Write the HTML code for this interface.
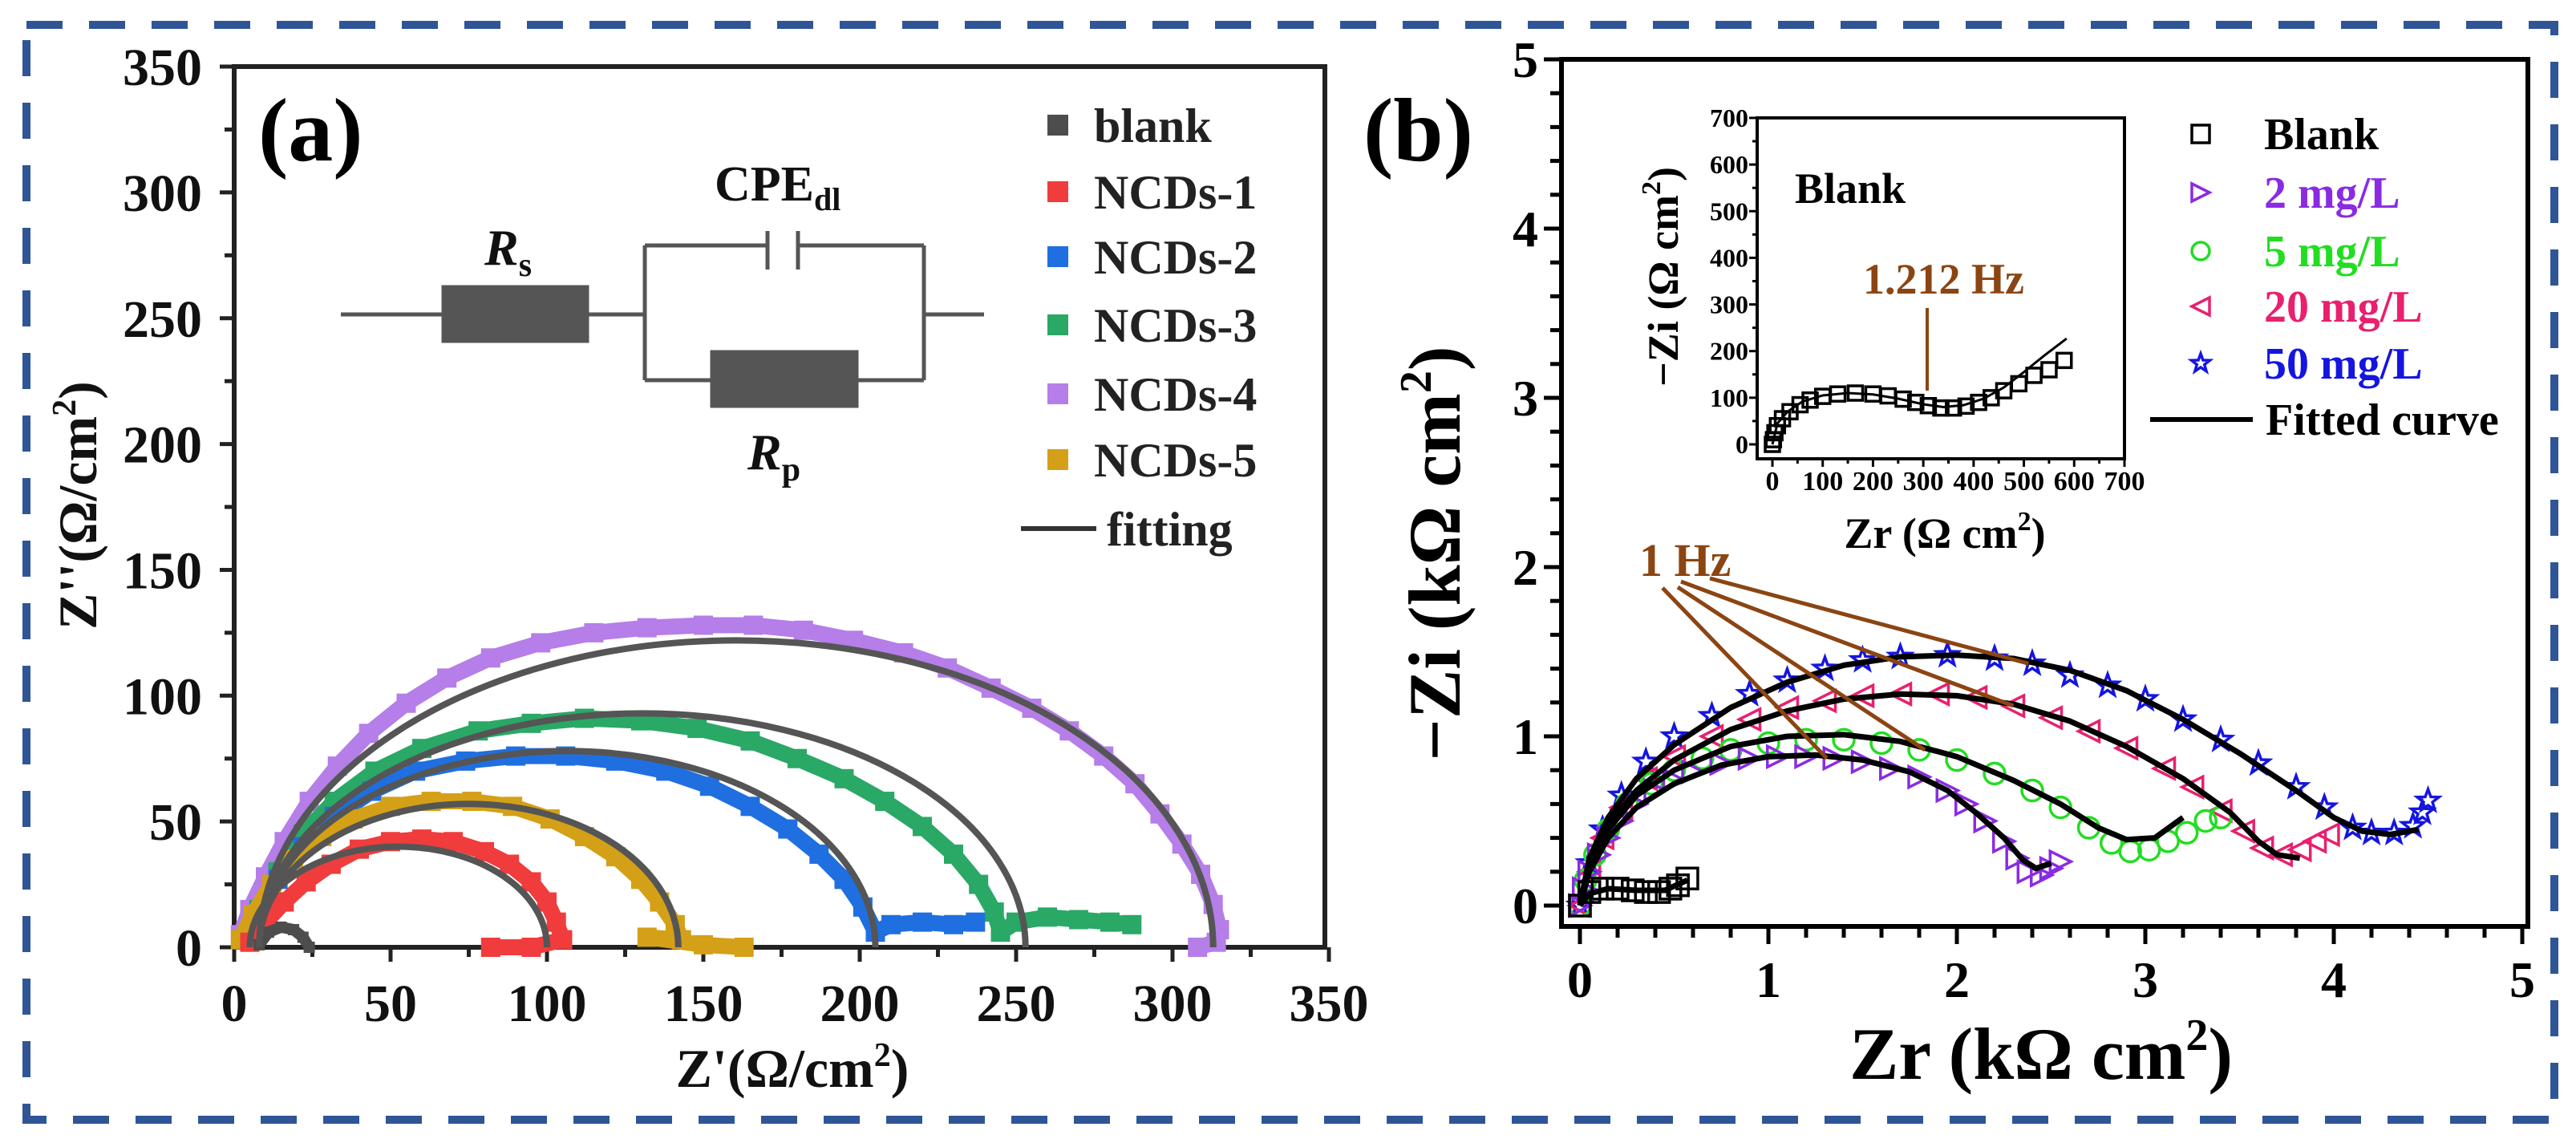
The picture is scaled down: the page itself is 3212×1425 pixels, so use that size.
<!DOCTYPE html>
<html><head><meta charset="utf-8">
<style>
html,body{margin:0;padding:0;background:#fff;}
svg{display:block;font-family:"Liberation Serif",serif;font-weight:bold;}
</style></head>
<body>
<svg id="fig" width="3212" height="1425" viewBox="0 0 3212 1425" xmlns="http://www.w3.org/2000/svg">
<rect x="33" y="31" width="3152" height="1365" fill="none" stroke="#2f5597" stroke-width="10" stroke-dasharray="45 33"/>
<g id="pa"></g>
<g id="pb"></g>
</svg>
<script>
// ===== Panel (a) data =====
const aTicks = [0,50,100,150,200,250,300,350];
const aNames = ["blank","NCDs-1","NCDs-2","NCDs-3","NCDs-4","NCDs-5"];
const aColors = ["#4d4d4d","#f03c3c","#1f6fe0","#2aa866","#b57ee8","#d4a017"];
const aBlank = [[8,1],[11,6],[15,8],[19,7],[22,4],[24,0]];
const aN1 = [[5,2],[10,10],[16,18],[23,26],[31,33],[40,39],[50,42],[60,43],[70,42],[80,38],[88,33],[95,26],[100,18],[103,10],[105,3],[95,0],[82,0]];
const aN2 = [[3,3],[8,14],[14,27],[22,40],[32,52],[44,62],[58,70],[74,74],[90,76],[106,76],[122,74],[138,70],[152,64],[165,56],[177,47],[187,37],[195,27],[201,16],[205,6],[210,9],[220,10],[230,9],[237,10]];
const aN3 = [[3,3],[8,15],[14,30],[22,45],[32,58],[45,70],[60,79],[78,86],[95,89],[112,91],[130,90],[148,87],[165,82],[180,75],[195,67],[208,58],[220,48],[230,37],[238,25],[243,14],[245,6],[250,10],[260,12],[270,11],[280,10],[287,9]];
const aN4 = [[2,5],[5,15],[10,28],[16,42],[24,58],[33,72],[43,85],[55,97],[68,107],[82,115],[98,121],[115,125],[132,127],[150,128],[166,128],[182,126],[198,122],[214,117],[228,111],[242,103],[255,95],[267,86],[278,76],[288,65],[296,53],[303,41],[309,29],[313,17],[315,7],[314,2],[308,0]];
const aN5 = [[2,3],[6,13],[12,25],[19,35],[28,44],[38,51],[50,56],[63,58],[76,58],[89,56],[101,51],[112,44],[122,36],[130,27],[136,18],[141,9],[143,3],[132,4],[150,1],[163,0]];
// fitting arcs: start, end, peak height
const aFitStart = [5,8,8,8,8];
const aFitEnd = [100,205,253,313,142];
const aFitPeak = [40,78,93,122,57];

// ===== Panel (b) data =====
const bXTicks = [0,1,2,3,4,5];
const bYTicks = [0,1,2,3,4,5];
const bNames = ["Blank","2 mg/L","5 mg/L","20 mg/L","50 mg/L"];
const bColors = ["#000000","#8a2be2","#22dd22","#e8206e","#1515e0"];
const bBlank = [[0,0],[0.05,0.08],[0.12,0.1],[0.2,0.1],[0.28,0.09],[0.35,0.08],[0.42,0.08],[0.48,0.1],[0.52,0.12],[0.57,0.16]];
const b2 = [[0,0],[0.02,0.1],[0.05,0.2],[0.1,0.3],[0.15,0.4],[0.22,0.5],[0.3,0.6],[0.4,0.68],[0.5,0.74],[0.6,0.79],[0.75,0.84],[0.9,0.87],[1.05,0.88],[1.2,0.88],[1.35,0.87],[1.5,0.85],[1.65,0.81],[1.8,0.76],[1.95,0.68],[2.05,0.6],[2.15,0.5],[2.25,0.38],[2.32,0.28],[2.38,0.2],[2.45,0.18],[2.5,0.22],[2.55,0.26]];
const b5 = [[0,0],[0.03,0.15],[0.08,0.3],[0.15,0.45],[0.25,0.6],[0.38,0.72],[0.5,0.8],[0.65,0.87],[0.8,0.92],[1.0,0.96],[1.2,0.98],[1.4,0.98],[1.6,0.96],[1.8,0.92],[2.0,0.86],[2.2,0.78],[2.4,0.68],[2.55,0.58],[2.7,0.46],[2.82,0.37],[2.92,0.32],[3.02,0.33],[3.12,0.38],[3.22,0.43],[3.32,0.5],[3.4,0.52]];
const b20 = [[0,0],[0.05,0.2],[0.12,0.4],[0.22,0.58],[0.35,0.75],[0.5,0.88],[0.7,1.0],[0.9,1.1],[1.1,1.17],[1.3,1.21],[1.5,1.24],[1.7,1.25],[1.9,1.25],[2.1,1.23],[2.3,1.18],[2.5,1.11],[2.7,1.03],[2.9,0.93],[3.1,0.81],[3.25,0.7],[3.4,0.56],[3.52,0.44],[3.62,0.34],[3.72,0.3],[3.82,0.33],[3.9,0.38],[3.97,0.42]];
const b50 = [[0,0],[0.05,0.25],[0.12,0.45],[0.22,0.65],[0.35,0.85],[0.5,1.0],[0.7,1.12],[0.9,1.25],[1.1,1.33],[1.3,1.4],[1.5,1.45],[1.7,1.47],[1.95,1.48],[2.2,1.46],[2.4,1.43],[2.6,1.36],[2.8,1.3],[3.0,1.22],[3.2,1.1],[3.4,0.98],[3.6,0.84],[3.8,0.7],[3.95,0.58],[4.1,0.46],[4.2,0.43],[4.32,0.43],[4.42,0.47],[4.47,0.55],[4.5,0.62]];
const bFitBlank = [[0,0],[0.05,0.07],[0.15,0.1],[0.3,0.09],[0.45,0.09],[0.57,0.15]];
const bFit2 = [[0,0],[0.05,0.2],[0.15,0.4],[0.3,0.58],[0.5,0.72],[0.75,0.83],[1.0,0.88],[1.25,0.89],[1.5,0.86],[1.75,0.79],[1.95,0.68],[2.1,0.55],[2.25,0.4],[2.35,0.27],[2.42,0.22],[2.5,0.25]];
const bFit5 = [[0,0],[0.05,0.22],[0.15,0.45],[0.3,0.65],[0.5,0.8],[0.8,0.94],[1.1,1.0],[1.4,1.01],[1.7,0.97],[2.0,0.88],[2.3,0.74],[2.55,0.6],[2.75,0.46],[2.9,0.39],[3.05,0.4],[3.2,0.52]];
const bFit20 = [[0,0],[0.05,0.25],[0.15,0.48],[0.3,0.68],[0.5,0.86],[0.8,1.04],[1.1,1.15],[1.4,1.22],[1.7,1.25],[2.0,1.24],[2.3,1.19],[2.6,1.09],[2.9,0.94],[3.2,0.75],[3.45,0.55],[3.6,0.38],[3.7,0.3],[3.82,0.28]];
const bFit50 = [[0,0],[0.05,0.28],[0.15,0.52],[0.3,0.75],[0.5,0.95],[0.8,1.17],[1.1,1.32],[1.4,1.42],[1.7,1.47],[2.0,1.48],[2.3,1.46],[2.6,1.39],[2.9,1.27],[3.2,1.1],[3.5,0.9],[3.8,0.68],[4.0,0.52],[4.15,0.44],[4.3,0.42],[4.45,0.45]];
const bHz = [[1.31,0.87],[1.83,0.92],[2.3,1.18],[2.38,1.43]];
// inset (Ω cm²)
const iTicks = [0,100,200,300,400,500,600,700];
const iBlank = [[0,0],[2,10],[5,25],[10,40],[20,55],[35,70],[55,85],[75,95],[100,103],[130,108],[165,110],[200,108],[230,104],[260,97],[285,90],[310,83],[335,78],[360,78],[385,82],[410,90],[435,100],[460,115],[490,130],[520,148],[550,160],[580,180]];
const iFit = [[0,0],[10,45],[30,70],[60,92],[100,105],[150,110],[200,107],[250,98],[300,86],[340,80],[380,84],[420,98],[460,122],[500,155],[540,190],[585,227]];

const NS = "http://www.w3.org/2000/svg";
function el(parent, tag, attrs, text){
  const e = document.createElementNS(NS, tag);
  for (const k in attrs) e.setAttribute(k, attrs[k]);
  if (text !== undefined) e.textContent = text;
  parent.appendChild(e);
  return e;
}
const pa = document.getElementById('pa');
const pb = document.getElementById('pb');

// ===== Panel (a) =====
const ax = v => 292 + v * 3.9;
const ay = v => 1181 - v * 3.137;
// frame
let f = el(pa,'path',{d:`M${ax(0)} ${ay(350)} H1652 V${ay(0)} H${ax(0)} Z`,fill:'none',stroke:'#222','stroke-width':6});


for (let v=0; v<=350; v+=25){
  const major = v%50===0;
  let t = el(pa,'line',{x1:ax(v),x2:ax(v),y1:ay(0),y2:ay(0)+(major?18:12),stroke:'#222','stroke-width':5});
  
  
  let t2 = el(pa,'line',{x1:ax(0),x2:ax(0)-(major?18:12),y1:ay(v),y2:ay(v),stroke:'#222','stroke-width':5});
  
  
}
aTicks.forEach(v=>{
  let t = el(pa,'text',{x:ax(v),y:1273,'font-size':66,'text-anchor':'middle',fill:'#111'},String(v));
  
  
  let t2 = el(pa,'text',{x:252,y:ay(v)+23,'font-size':66,'text-anchor':'end',fill:'#111'},String(v));
  
  
});
let xt = el(pa,'text',{x:988,y:1355,'font-size':68,'text-anchor':'middle',fill:'#111'});


xt.innerHTML = "Z'(Ω/cm<tspan dy='-26' font-size='42'>2</tspan><tspan dy='26'>)</tspan>";
let yt = el(pa,'text',{x:0,y:0,'font-size':68,'text-anchor':'middle',fill:'#111',transform:'translate(120,630) rotate(-90)'});


yt.innerHTML = "Z''(Ω/cm<tspan dy='-26' font-size='42'>2</tspan><tspan dy='26'>)</tspan>";
let la = el(pa,'text',{x:322,y:200,'font-size':112,fill:'#000'},'(a)');



// data series a (draw big first)
const aSeries = [aBlank,aN1,aN2,aN3,aN4,aN5];
const aOrder = [4,3,2,5,1,0];
aOrder.forEach(i=>{
  const g = el(pa,'g',{});
  
  
  const pts = aSeries[i].map(p=>ax(p[0])+','+ay(p[1])).join(' ');
  el(g,'polyline',{points:pts,fill:'none',stroke:aColors[i],'stroke-width':i===0?14:20,'stroke-linejoin':'round'});
  aSeries[i].forEach(p=>{
    const s = i===0?14:24;
    const r = el(g,'rect',{x:ax(p[0])-s/2,y:ay(p[1])-s/2,width:s,height:s,fill:aColors[i]});
    
    
  });
});
// fitting arcs
aFitStart.forEach((s,i)=>{
  const e = aFitEnd[i], h = aFitPeak[i];
  const rx = (ax(e)-ax(s))/2, ry = ay(0)-ay(h);
  const p = el(pa,'path',{d:`M${ax(s)} ${ay(0)} A${rx} ${ry} 0 0 1 ${ax(e)} ${ay(0)}`,fill:'none',stroke:'#555','stroke-width':8});
  
  
});
// equivalent circuit
const cg = el(pa,'g',{stroke:'#555','stroke-width':5,fill:'none'});


el(cg,'path',{d:'M425 392 H553 M732 392 H804 M804 306 V474 M804 306 H957 M995 306 H1152 M1152 306 V474 M804 474 H888 M1068 474 H1152 M1152 392 H1227 M957 288 V336 M995 288 V336'});
el(cg,'rect',{x:553,y:358,width:179,height:67,fill:'#555'});
el(cg,'rect',{x:888,y:439,width:180,height:67,fill:'#555'});
let rs = el(pa,'text',{x:604,y:330,'font-size':64,'font-style':'italic',fill:'#111'});


rs.innerHTML = "R<tspan dy='14' font-size='42' font-style='normal'>s</tspan>";
let rp = el(pa,'text',{x:932,y:585,'font-size':64,'font-style':'italic',fill:'#111'});


rp.innerHTML = "R<tspan dy='14' font-size='42' font-style='normal'>p</tspan>";
let cpe = el(pa,'text',{x:891,y:250,'font-size':62,fill:'#111'});


cpe.innerHTML = "CPE<tspan dy='12' font-size='40'>dl</tspan>";
// legend a
const lgA = el(pa,'g',{});


const aLegY = [156,239,320,405,491,573];
aNames.forEach((n,i)=>{
  const r = el(lgA,'rect',{x:1306,y:aLegY[i]-13,width:26,height:26,fill:aColors[i]});
  
  
  const t = el(lgA,'text',{x:1364,y:aLegY[i]+21,'font-size':60,fill:'#222'},n);
  
  
});
el(lgA,'line',{x1:1273,x2:1367,y1:659,y2:659,stroke:'#333','stroke-width':6});
let ft = el(lgA,'text',{x:1380,y:680,'font-size':60,fill:'#222'},'fitting');



// ===== Panel (b) =====
const bx = v => 1970 + v * 235;
const by = v => 1129 - v * 211;
let fb = el(pb,'rect',{x:1947,y:74,width:1205,height:1081,fill:'none',stroke:'#000','stroke-width':6});


for (let k=0; k<=25; k++){
  const v = k*0.2, major = k%5===0;
  let t = el(pb,'line',{x1:bx(v),x2:bx(v),y1:1155,y2:1155+(major?22:14),stroke:'#000','stroke-width':5});
  
  
  if (by(v) >= 74){
    let t2 = el(pb,'line',{x1:1947,x2:1947-(major?22:14),y1:by(v),y2:by(v),stroke:'#000','stroke-width':5});
    
    
  }
}
bXTicks.forEach(v=>{
  let t = el(pb,'text',{x:bx(v),y:1243,'font-size':64,'text-anchor':'middle',fill:'#000'},String(v));
  
  
});
bYTicks.forEach(v=>{
  let t = el(pb,'text',{x:1918,y:by(v)+22,'font-size':64,'text-anchor':'end',fill:'#000'},String(v));
  
  
});
let xtb = el(pb,'text',{x:2545,y:1345,'font-size':92,'text-anchor':'middle',fill:'#000'});


xtb.innerHTML = "Zr (kΩ cm<tspan dy='-36' font-size='56'>2</tspan><tspan dy='36'>)</tspan>";
let ytb = el(pb,'text',{x:0,y:0,'font-size':92,'text-anchor':'middle',fill:'#000',transform:'translate(1820,690) rotate(-90)'});


ytb.innerHTML = "−Zi (kΩ cm<tspan dy='-36' font-size='56'>2</tspan><tspan dy='36'>)</tspan>";
let lb = el(pb,'text',{x:1700,y:200,'font-size':112,fill:'#000'},'(b)');



function marker(g, type, x, y, color, s){
  let m;
  if (type==='square') m = el(g,'rect',{x:x-s,y:y-s,width:2*s,height:2*s,fill:'none',stroke:color,'stroke-width':3.5});
  else if (type==='circle') m = el(g,'circle',{cx:x,cy:y,r:s,fill:'none',stroke:color,'stroke-width':3.5});
  else if (type==='tri-right') m = el(g,'polygon',{points:`${x-s},${y-s} ${x+s},${y} ${x-s},${y+s}`,fill:'none',stroke:color,'stroke-width':3.5});
  else if (type==='tri-left') m = el(g,'polygon',{points:`${x+s},${y-s} ${x-s},${y} ${x+s},${y+s}`,fill:'none',stroke:color,'stroke-width':3.5});
  else {
    let pts=[];
    for (let k=0;k<10;k++){const r=k%2?s*0.45:s*1.1;const a=-Math.PI/2+k*Math.PI/5;pts.push((x+r*Math.cos(a))+','+(y+r*Math.sin(a)));}
    m = el(g,'polygon',{points:pts.join(' '),fill:'none',stroke:color,'stroke-width':3.5});
  }
  return m;
}
const bSeries = [bBlank,b2,b5,b20,b50];
const bTypes = ['square','tri-right','circle','tri-left','star'];
const bFits = [bFitBlank,bFit2,bFit5,bFit20,bFit50];
[4,3,2,1,0].forEach(i=>{
  const g = el(pb,'g',{});
  
  
  bSeries[i].forEach(p=>{
    const m = marker(g,bTypes[i],bx(p[0]),by(p[1]),bColors[i],13);
    
    
  });
});
bFits.forEach((fit,i)=>{
  const p = el(pb,'polyline',{points:fit.map(q=>bx(q[0])+','+by(q[1])).join(' '),fill:'none',stroke:'#000','stroke-width':7,'stroke-linejoin':'round'});
  
  
});
// 1 Hz annotation
const hzStarts = [[2073,733],[2092,732],[2096,725],[2132,721]];
bHz.forEach((p,i)=>{
  const l = el(pb,'line',{x1:hzStarts[i][0],y1:hzStarts[i][1],x2:bx(p[0]),y2:by(p[1]),stroke:'#8b4513','stroke-width':5});
  
  
});
let hz = el(pb,'text',{x:2044,y:718,'font-size':58,fill:'#8b4513'},'1 Hz');



// inset
const ix = v => 2210 + v * (439/700);
const iy = v => 554 - v * (407/700);
const ig = el(pb,'g',{});


el(ig,'rect',{x:2191,y:147,width:458,height:425,fill:'#fff',stroke:'#000','stroke-width':4});
for (let v=0; v<=700; v+=50){
  const major = v%100===0;
  el(ig,'line',{x1:ix(v),x2:ix(v),y1:572,y2:572+(major?10:6),stroke:'#000','stroke-width':3});
  el(ig,'line',{x1:2191,x2:2191-(major?10:6),y1:iy(v),y2:iy(v),stroke:'#000','stroke-width':3});
}
iTicks.forEach(v=>{
  let t = el(ig,'text',{x:ix(v),y:611,'font-size':34,'text-anchor':'middle',fill:'#000'},String(v));
  
  
  let t2 = el(ig,'text',{x:2180,y:iy(v)+11,'font-size':32,'text-anchor':'end',fill:'#000'},String(v));
  
  
});
let ixt = el(ig,'text',{x:2425,y:683,'font-size':54,'text-anchor':'middle',fill:'#000'});


ixt.innerHTML = "Zr (Ω cm<tspan dy='-22' font-size='34'>2</tspan><tspan dy='22'>)</tspan>";
let iyt = el(ig,'text',{x:0,y:0,'font-size':54,'text-anchor':'middle',fill:'#000',transform:'translate(2092,345) rotate(-90)'});


iyt.innerHTML = "−Zi (Ω cm<tspan dy='-22' font-size='34'>2</tspan><tspan dy='22'>)</tspan>";
let ibt = el(ig,'text',{x:2238,y:253,'font-size':54,fill:'#000'},'Blank');


let ihz = el(ig,'text',{x:2323,y:366,'font-size':54,fill:'#8b4513'},'1.212 Hz');


el(ig,'line',{x1:2403,x2:2403,y1:384,y2:487,stroke:'#8b4513','stroke-width':4});
iBlank.forEach(p=>{
  const m = marker(ig,'square',ix(p[0]),iy(p[1]),'#000',9);
  
  
});
let ifl = el(ig,'polyline',{points:iFit.map(q=>ix(q[0])+','+iy(q[1])).join(' '),fill:'none',stroke:'#000','stroke-width':3});



// legend b
const lgB = el(pb,'g',{});


const bLegY = [167,240,313,382,453];
bNames.forEach((n,i)=>{
  const m = marker(lgB,bTypes[i],2744,bLegY[i],bColors[i],11);
  
  
  const t = el(lgB,'text',{x:2823,y:bLegY[i]+19,'font-size':56,fill:bColors[i]},n);
  
  
});
el(lgB,'line',{x1:2681,x2:2809,y1:523,y2:523,stroke:'#000','stroke-width':6});
let fc = el(lgB,'text',{x:2825,y:542,'font-size':56,fill:'#000'},'Fitted curve');


</script>
</body></html>
